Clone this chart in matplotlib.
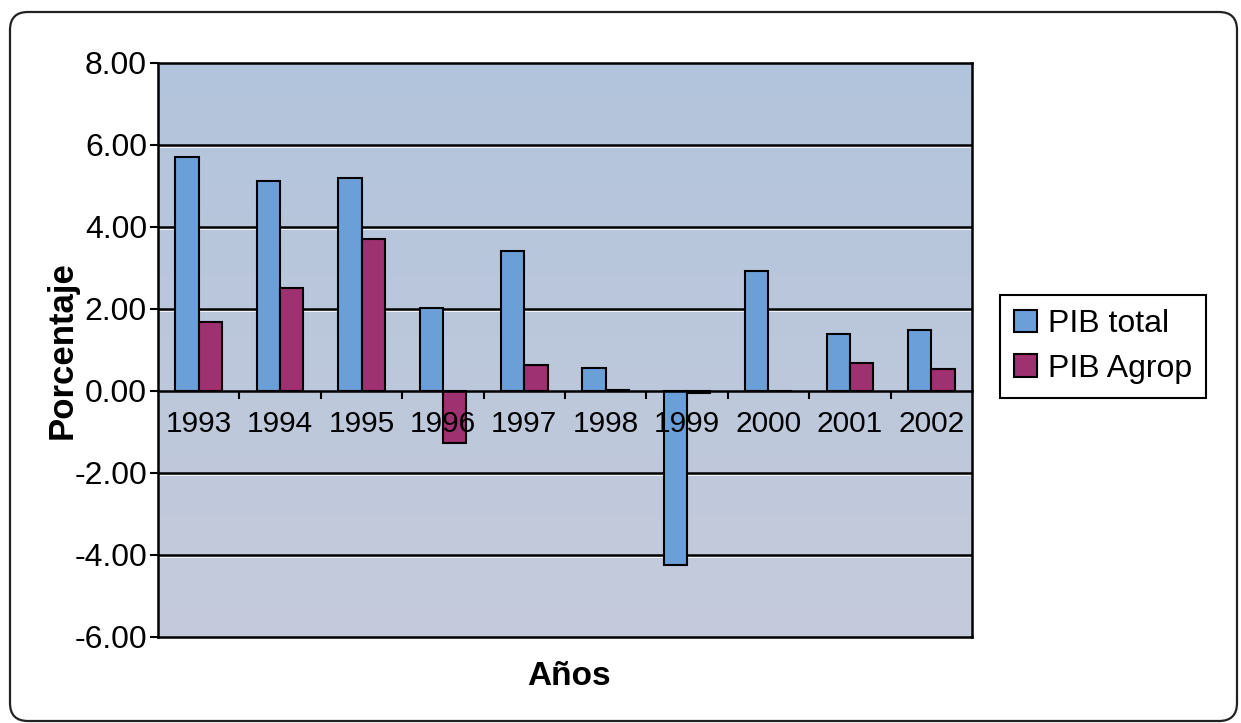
import matplotlib
matplotlib.use("Agg")
import matplotlib.pyplot as plt
import matplotlib.transforms as mtransforms
from matplotlib.patches import FancyBboxPatch, Patch
import numpy as np

plt.rcParams['font.family'] = ['Liberation Sans', 'DejaVu Sans']

years = ['1993', '1994', '1995', '1996', '1997', '1998', '1999', '2000', '2001', '2002']
pib_total = [5.70, 5.13, 5.19, 2.03, 3.41, 0.55, -4.24, 2.93, 1.38, 1.49]
pib_agrop = [1.69, 2.52, 3.71, -1.28, 0.63, 0.02, -0.06, 0.0, 0.69, 0.53]
series_names = ['PIB total', 'PIB Agrop']
y_ticks = [-6, -4, -2, 0, 2, 4, 6, 8]

blue = '#6b9fd8'
magenta = '#9e3170'

fig = plt.figure(figsize=(12.41, 7.23), dpi=100)
fig.patch.set_facecolor('white')

# rounded outer frame (pixel coords)
frame = FancyBboxPatch((10, 2), 1227, 709, boxstyle='round,pad=0,rounding_size=18',
                       transform=None, facecolor='none', edgecolor='#222222', linewidth=1.6)
fig.add_artist(frame)

ax = fig.add_axes([158 / 1241, 1 - 637 / 723, 814 / 1241, 574 / 723])
x = np.arange(len(years))
xmin, xmax = -0.5, len(years) - 0.5

# plot area gradient
grad = np.linspace(0, 1, 256).reshape(-1, 1)
top = np.array([178, 196, 220]) / 255
bot = np.array([197, 203, 219]) / 255
img = top + (bot - top) * grad[:, :, None]
ax.imshow(img, extent=(xmin, xmax, -6, 8), origin='upper', aspect='auto', zorder=0,
          interpolation='bilinear')
ax.set_xlim(xmin, xmax)
ax.set_ylim(-6, 8)

# gridlines with faint white shadow
shadow = mtransforms.offset_copy(ax.transData, fig=fig, x=0, y=-2, units='dots')
for v in y_ticks:
    if v in (-6, 0, 8):
        continue
    ax.plot([xmin, xmax], [v, v], color='white', lw=1.4, alpha=0.8, zorder=1,
            transform=shadow)
    ax.axhline(v, color='black', lw=1.8, zorder=1.5)

w = 2 / 7
ax.bar(x - w / 2, pib_total, width=w, color=blue, edgecolor='black', lw=1.5, zorder=2)
ax.bar(x + w / 2, pib_agrop, width=w, color=magenta, edgecolor='black', lw=1.5, zorder=2)

# spines
for s in ax.spines.values():
    s.set_linewidth(1.8)
    s.set_zorder(3)
ax.spines['bottom'].set_position(('data', 0))
ax.axhline(-6, color='black', lw=1.8, zorder=3, clip_on=False)

ax.set_yticks(y_ticks)
ax.set_yticklabels(['%.2f' % v for v in y_ticks], fontsize=23)
ax.tick_params(axis='y', direction='out', length=6, width=1.5, pad=2)

ax.set_xticks(x)
ax.set_xticklabels(years, fontsize=21.5)
ax.set_xticks(np.arange(0.5, len(years) - 0.5, 1), minor=True)
ax.tick_params(axis='x', which='major', length=0, pad=14)
ax.tick_params(axis='x', which='minor', direction='out', length=6, width=1.5)
ax.xaxis.set_zorder(5)

ax.set_ylabel('Porcentaje', fontsize=25, fontweight='bold')
ax.yaxis.set_label_coords(-0.098, 0.5)
ax.set_xlabel('Años', fontsize=24, fontweight='bold')
ax.xaxis.set_label_coords(0.505, -0.042)

handles = [Patch(facecolor=blue, edgecolor='black', lw=1.5),
           Patch(facecolor=magenta, edgecolor='black', lw=1.5)]
leg = fig.legend(handles, series_names, loc='center left',
                 bbox_to_anchor=(1000 / 1241, 1 - 346.5 / 723), fontsize=23,
                 fancybox=False, edgecolor='black', framealpha=1,
                 handlelength=0.7, handleheight=0.7, handletextpad=0.35,
                 borderpad=0.45, labelspacing=0.45, borderaxespad=0)
leg.get_frame().set_linewidth(1.5)

fig.savefig('out.png', dpi=100)
